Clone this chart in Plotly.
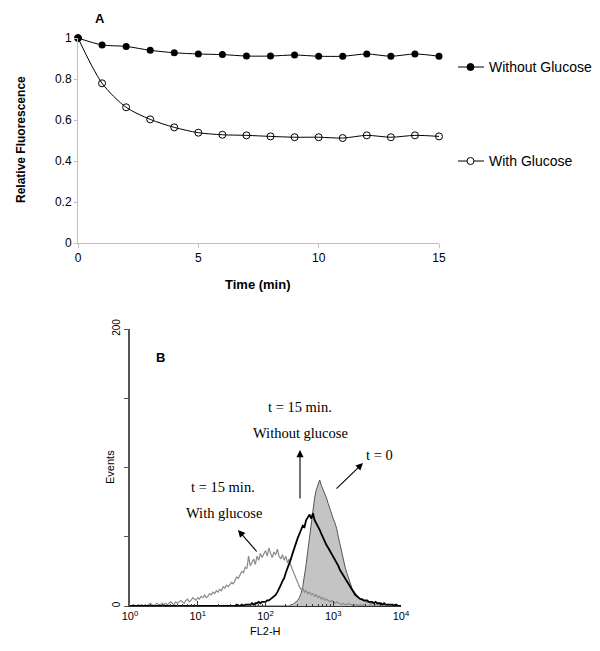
import plotly.graph_objects as go

# ---- panel A data ----
time_min = [0, 1, 2, 3, 4, 5, 6, 7, 8, 9, 10, 11, 12, 13, 14, 15]
without_glucose = [1.0, 0.966, 0.959, 0.94, 0.928, 0.922, 0.919, 0.912, 0.912, 0.917,
                   0.911, 0.911, 0.922, 0.911, 0.922, 0.911]
with_glucose = [1.0, 0.779, 0.662, 0.603, 0.564, 0.538, 0.528, 0.525, 0.520, 0.516,
                0.516, 0.512, 0.525, 0.516, 0.525, 0.520]

# ---- panel B data: FL2-H histograms, one bin every 0.025 decade (10^0 .. 10^4) ----
fl2_bins = [10 ** (i / 40) for i in range(161)]
hist_with_glucose = [
    0, 0, 1, 0, 0, 1, 0, 1, 0, 1,
    0, 1, 2, 1, 0, 1, 2, 1, 1, 2,
    1, 2, 1, 2, 3, 2, 1, 3, 2, 3,
    4, 3, 2, 4, 5, 3, 4, 6, 5, 4,
    6, 5, 7, 6, 8, 6, 7, 9, 8, 10,
    9, 11, 10, 12, 11, 14, 13, 15, 14, 16,
    17, 16, 19, 21, 20, 23, 25, 24, 28, 27,
    36, 29, 31, 34, 30, 36, 33, 38, 35, 37,
    40, 36, 42, 38, 35, 39, 37, 41, 36, 34,
    37, 33, 36, 31, 34, 29, 26, 22, 19, 16,
    14, 12, 13, 10, 11, 9, 10, 8, 9, 7,
    8, 6, 7, 5, 6, 4, 5, 4, 3, 4,
    3, 2, 3, 2, 2, 1, 2, 1, 1, 2,
    1, 1, 0, 1, 1, 0, 1, 0, 1, 0,
    0, 0, 1, 0, 0, 0, 0, 1, 0, 0,
    0, 0, 0, 0, 0, 0, 0, 0, 0, 0,
    0]
hist_without_glucose = [
    0, 0, 0, 0, 0, 0, 0, 0, 0, 0,
    0, 0, 0, 0, 0, 0, 0, 0, 0, 0,
    0, 0, 0, 0, 0, 0, 0, 0, 0, 0,
    0, 0, 0, 0, 0, 0, 0, 0, 0, 0,
    0, 0, 0, 0, 0, 0, 0, 0, 0, 0,
    0, 0, 0, 0, 0, 0, 0, 0, 0, 0,
    0, 0, 0, 1, 0, 0, 1, 0, 1, 1,
    1, 1, 2, 1, 2, 2, 3, 2, 3, 3,
    3, 4, 4, 5, 6, 7, 8, 10, 12, 15,
    18, 20, 24, 27, 31, 34, 38, 42, 45, 49,
    52, 55, 58, 57, 62, 64, 66, 63, 67, 62,
    60, 57, 55, 52, 49, 47, 44, 42, 40, 38,
    36, 34, 31, 29, 26, 24, 21, 19, 17, 15,
    13, 11, 9, 8, 7, 6, 5, 5, 4, 4,
    4, 3, 3, 3, 2, 3, 2, 2, 2, 1,
    2, 1, 1, 1, 1, 1, 0, 1, 0, 0,
    0]
hist_t0 = [
    0, 0, 0, 0, 0, 0, 0, 0, 0, 0,
    0, 0, 0, 0, 0, 0, 0, 0, 0, 0,
    0, 0, 0, 0, 0, 0, 0, 0, 0, 0,
    0, 0, 0, 0, 0, 0, 0, 0, 0, 0,
    0, 0, 0, 0, 0, 0, 0, 0, 0, 0,
    0, 0, 0, 0, 0, 0, 0, 0, 0, 0,
    0, 0, 0, 0, 0, 0, 0, 0, 0, 0,
    0, 0, 0, 0, 0, 0, 0, 0, 0, 0,
    0, 0, 0, 0, 0, 0, 0, 0, 0, 0,
    0, 0, 0, 0, 0, 1, 1, 2, 3, 4,
    6, 9, 14, 21, 30, 40, 50, 62, 70, 78,
    84, 88, 91, 87, 84, 82, 78, 74, 70, 66,
    63, 60, 56, 50, 44, 39, 33, 28, 24, 20,
    16, 13, 11, 9, 7, 6, 5, 4, 4, 3,
    3, 3, 2, 2, 2, 1, 2, 1, 1, 1,
    1, 1, 0, 1, 0, 0, 0, 0, 0, 0,
    0]

# the page body keeps an 8px margin, so the figure is 8px smaller on each side
OFF = 8
W, H = 600 - OFF, 651 - OFF
px = lambda x: (x - OFF) / W
py = lambda y: 1 - (y - OFF) / H

fig = go.Figure()

# panel A
fig.add_trace(go.Scatter(
    x=time_min, y=without_glucose, mode="lines+markers", xaxis="x", yaxis="y",
    line=dict(color="black", width=1, shape="spline", smoothing=0.8),
    marker=dict(symbol="circle", size=7, color="black"), cliponaxis=False,
))
fig.add_trace(go.Scatter(
    x=time_min, y=with_glucose, mode="lines+markers", xaxis="x", yaxis="y",
    line=dict(color="black", width=1, shape="spline", smoothing=0.8),
    marker=dict(symbol="circle-open", size=7, color="black", line=dict(width=1)),
    cliponaxis=False,
))

# panel B
fig.add_trace(go.Scatter(
    x=fl2_bins, y=hist_t0, mode="lines", xaxis="x2", yaxis="y2",
    fill="tozeroy", fillcolor="#c4c4c4", line=dict(color="#555", width=1),
))
fig.add_trace(go.Scatter(
    x=fl2_bins, y=hist_with_glucose, mode="lines", xaxis="x2", yaxis="y2",
    line=dict(color="#8a8a8a", width=1.2),
))
fig.add_trace(go.Scatter(
    x=fl2_bins, y=hist_without_glucose, mode="lines", xaxis="x2", yaxis="y2",
    line=dict(color="black", width=1.8),
))

arial = dict(family="Liberation Sans, Arial", size=12, color="black")
times = dict(family="Liberation Serif, Times New Roman", size=14.5, color="black")

fig.update_layout(
    width=W, height=H, margin=dict(l=0, r=0, t=0, b=0, pad=0),
    paper_bgcolor="white", plot_bgcolor="white", showlegend=False,
    font=arial,
    xaxis=dict(domain=[px(78), px(439)], anchor="y", range=[0, 15], automargin=False,
               tickvals=[0, 5, 10, 15], showgrid=False, zeroline=False,
               showline=True, linecolor="#c0c0c0", linewidth=1,
               ticks="outside", ticklen=4, tickcolor="#c0c0c0",
               tickfont=dict(family="Liberation Sans, Arial", size=12)),
    yaxis=dict(domain=[py(243), py(38)], anchor="x", range=[0, 1], automargin=False,
               tickvals=[0, 0.2, 0.4, 0.6, 0.8, 1],
               ticktext=["0", "0.2", "0.4", "0.6", "0.8", "1"],
               showgrid=False, zeroline=False, showline=True,
               linecolor="#c0c0c0", linewidth=1, ticks="outside", ticklen=3,
               tickcolor="#c0c0c0",
               tickfont=dict(family="Liberation Sans, Arial", size=12)),
    xaxis2=dict(domain=[px(130), px(401)], anchor="y2", type="log", range=[0, 4],
                automargin=False,
                tickvals=[1, 10, 100, 1000, 10000],
                ticktext=["10<sup>0</sup>", "10<sup>1</sup>", "10<sup>2</sup>",
                          "10<sup>3</sup>", "10<sup>4</sup>"],
                showgrid=False, zeroline=False, showline=True,
                linecolor="#333", linewidth=1.2, ticks="inside", ticklen=5,
                tickcolor="#333",
                minor=dict(ticks="inside", ticklen=2, tickcolor="#333",
                           tickvals=[k * 10 ** n for n in range(4) for k in range(2, 10)]),
                tickfont=dict(family="Liberation Sans, Arial", size=11)),
    yaxis2=dict(domain=[py(606), py(329)], anchor="x2", range=[0, 200],
                automargin=False,
                tickvals=[0, 50, 100, 150, 200], ticktext=["0", "", "", "", "200"],
                tickangle=-90, showgrid=False, zeroline=False, showline=True,
                linecolor="#555", linewidth=1.5, ticks="outside", ticklen=4,
                tickcolor="#555",
                tickfont=dict(family="Liberation Sans, Arial", size=10)),
)

ann = [
    dict(x=px(100), y=py(18), text="<b>A</b>", font=dict(arial, size=13)),
    dict(x=px(21), y=py(140), text="<b>Relative Fluorescence</b>", textangle=-90,
         font=dict(arial, size=12)),
    dict(x=px(258), y=py(284), text="<b>Time (min)</b>", font=dict(arial, size=13)),
    dict(x=px(487), y=py(67), text="Without Glucose", xanchor="left",
         font=dict(arial, size=14)),
    dict(x=px(487), y=py(161), text="With Glucose", xanchor="left",
         font=dict(arial, size=14)),
    dict(x=px(160), y=py(357), text="<b>B</b>", font=dict(arial, size=13)),
    dict(x=px(110), y=py(467), text="Events", textangle=-90,
         font=dict(arial, size=11)),
    dict(x=px(265), y=py(631), text="FL2-H", font=dict(arial, size=11)),
    dict(x=px(300), y=py(407), text="t = 15 min.", font=times),
    dict(x=px(300), y=py(433), text="Without glucose", font=times),
    dict(x=px(379), y=py(455), text="t = 0", font=times),
    dict(x=px(223), y=py(487), text="t = 15 min.", font=times),
    dict(x=px(224), y=py(513), text="With glucose", font=times),
]
for a in ann:
    a.setdefault("xanchor", "center")
    fig.add_annotation(xref="paper", yref="paper", showarrow=False, yanchor="middle", **a)

# arrows in panel B
for (x0, y0, x1, y1) in [(300, 500, 300, 450), (335, 490, 363, 463), (258, 553, 238, 530)]:
    fig.add_annotation(xref="paper", yref="paper", x=px(x1), y=py(y1),
                       ax=x0 - x1, ay=y0 - y1, text="", showarrow=True,
                       arrowhead=2, arrowsize=1.3, arrowwidth=1.1, arrowcolor="black")

# legend glyphs for panel A
for yy, filled in [(67, True), (161, False)]:
    fig.add_shape(type="line", xref="paper", yref="paper",
                  x0=px(458), x1=px(484), y0=py(yy), y1=py(yy),
                  line=dict(color="black", width=1))
    fig.add_shape(type="circle", xref="paper", yref="paper",
                  x0=px(467), x1=px(474), y0=py(yy + 3.5), y1=py(yy - 3.5),
                  fillcolor="black" if filled else "white",
                  line=dict(color="black", width=1))

fig.write_html("out.html")
